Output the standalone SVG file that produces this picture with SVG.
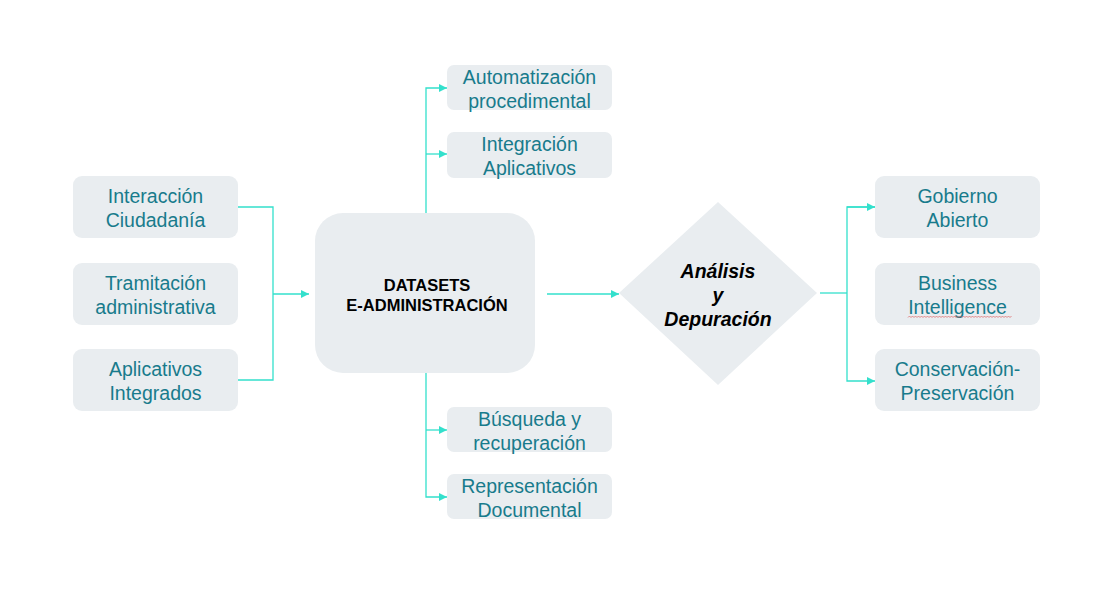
<svg xmlns="http://www.w3.org/2000/svg" width="1100" height="600" viewBox="0 0 1100 600">
<defs>
<style>
.box{fill:#E9EDF0;}
.t{font-family:"Liberation Sans",Arial,sans-serif;font-size:19.5px;fill:#187B8C;text-anchor:middle;}
.c{fill:none;stroke:#33E0CC;stroke-width:1.3;}
.b{font-family:"Liberation Sans",Arial,sans-serif;font-size:16.5px;font-weight:bold;fill:#000;text-anchor:middle;}
.bi{font-family:"Liberation Sans",Arial,sans-serif;font-size:19.5px;font-weight:bold;font-style:italic;fill:#000;text-anchor:middle;}
</style>
<marker id="ah" viewBox="0 0 10 10" refX="10" refY="5" markerWidth="9" markerHeight="8" markerUnits="userSpaceOnUse" orient="auto">
<path d="M0,0 L10,5 L0,10 z" fill="#33E0CC"/>
</marker>
</defs>
<rect width="1100" height="600" fill="#fff"/>
<g id="connectors">
<path class="c" d="M238,207 H273 V380 H238"/>
<path class="c" d="M273,294 H309" marker-end="url(#ah)"/>
<path class="c" d="M426,213 V88 H447" marker-end="url(#ah)"/>
<path class="c" d="M426,154 H447" marker-end="url(#ah)"/>
<path class="c" d="M426,373 V497 H447" marker-end="url(#ah)"/>
<path class="c" d="M426,430 H447" marker-end="url(#ah)"/>
<path class="c" d="M547,294 H619" marker-end="url(#ah)"/>
<path class="c" d="M820,293 H847"/>
<path class="c" d="M875,207 H847 V381 H875" marker-end="url(#ah)"/>
<path class="c" d="M847,207 H875" marker-end="url(#ah)"/>
</g>
<g id="interaccion">
<rect class="box" x="73" y="176" width="165" height="62" rx="9"/>
<text class="t" x="155.5" y="203">Interacción</text>
<text class="t" x="155.5" y="227">Ciudadanía</text>
</g>
<g id="tramitacion">
<rect class="box" x="73" y="263" width="165" height="62" rx="9"/>
<text class="t" x="155.5" y="290">Tramitación</text>
<text class="t" x="155.5" y="314">administrativa</text>
</g>
<g id="aplicativos">
<rect class="box" x="73" y="349" width="165" height="62" rx="9"/>
<text class="t" x="155.5" y="376">Aplicativos</text>
<text class="t" x="155.5" y="400">Integrados</text>
</g>
<g id="datasets">
<rect class="box" x="315" y="213" width="220" height="160" rx="28"/>
<text class="b" x="427" y="291">DATASETS</text>
<text class="b" x="427" y="311">E-ADMINISTRACIÓN</text>
</g>
<g id="automatizacion">
<rect class="box" x="447" y="65" width="165" height="45" rx="7"/>
<text class="t" x="529.5" y="84">Automatización</text>
<text class="t" x="529.5" y="108">procedimental</text>
</g>
<g id="integracion">
<rect class="box" x="447" y="132" width="165" height="46" rx="7"/>
<text class="t" x="529.5" y="151">Integración</text>
<text class="t" x="529.5" y="175">Aplicativos</text>
</g>
<g id="busqueda">
<rect class="box" x="447" y="407" width="165" height="45" rx="7"/>
<text class="t" x="529.5" y="426">Búsqueda y</text>
<text class="t" x="529.5" y="450">recuperación</text>
</g>
<g id="representacion">
<rect class="box" x="447" y="474" width="165" height="45" rx="7"/>
<text class="t" x="529.5" y="493">Representación</text>
<text class="t" x="529.5" y="517">Documental</text>
</g>
<g id="analisis">
<polygon class="box" points="718,202 817,293 718,385 619,293"/>
<text class="bi" x="718" y="278">Análisis</text>
<text class="bi" x="718" y="302">y</text>
<text class="bi" x="718" y="326">Depuración</text>
</g>
<g id="gobierno">
<rect class="box" x="875" y="176" width="165" height="62" rx="9"/>
<text class="t" x="957.5" y="203">Gobierno</text>
<text class="t" x="957.5" y="227">Abierto</text>
</g>
<g id="business">
<rect class="box" x="875" y="263" width="165" height="62" rx="9"/>
<text class="t" x="957.5" y="290">Business</text>
<text class="t" x="957.5" y="314">Intelligence</text>
<path d="M908,317.5 l1.5,-1.5 l1.5,1.5 l1.5,-1.5 l1.5,1.5 l1.5,-1.5 l1.5,1.5 l1.5,-1.5 l1.5,1.5 l1.5,-1.5 l1.5,1.5 l1.5,-1.5 l1.5,1.5 l1.5,-1.5 l1.5,1.5 l1.5,-1.5 l1.5,1.5 l1.5,-1.5 l1.5,1.5 l1.5,-1.5 l1.5,1.5 l1.5,-1.5 l1.5,1.5 l1.5,-1.5 l1.5,1.5 l1.5,-1.5 l1.5,1.5 l1.5,-1.5 l1.5,1.5 l1.5,-1.5 l1.5,1.5 l1.5,-1.5 l1.5,1.5 l1.5,-1.5 l1.5,1.5 l1.5,-1.5 l1.5,1.5 l1.5,-1.5 l1.5,1.5 l1.5,-1.5 l1.5,1.5 l1.5,-1.5 l1.5,1.5 l1.5,-1.5 l1.5,1.5 l1.5,-1.5 l1.5,1.5 l1.5,-1.5 l1.5,1.5 l1.5,-1.5 l1.5,1.5 l1.5,-1.5 l1.5,1.5 l1.5,-1.5 l1.5,1.5 l1.5,-1.5 l1.5,1.5 l1.5,-1.5 l1.5,1.5 l1.5,-1.5 l1.5,1.5 l1.5,-1.5 l1.5,1.5 l1.5,-1.5 l1.5,1.5 l1.5,-1.5 l1.5,1.5 l1.5,-1.5 l1.5,1.5 l1.5,-1.5" fill="none" stroke="#E06060" stroke-width="0.7"/>
</g>
<g id="conservacion">
<rect class="box" x="875" y="349" width="165" height="62" rx="9"/>
<text class="t" x="957.5" y="376">Conservación-</text>
<text class="t" x="957.5" y="400">Preservación</text>
</g>
</svg>
